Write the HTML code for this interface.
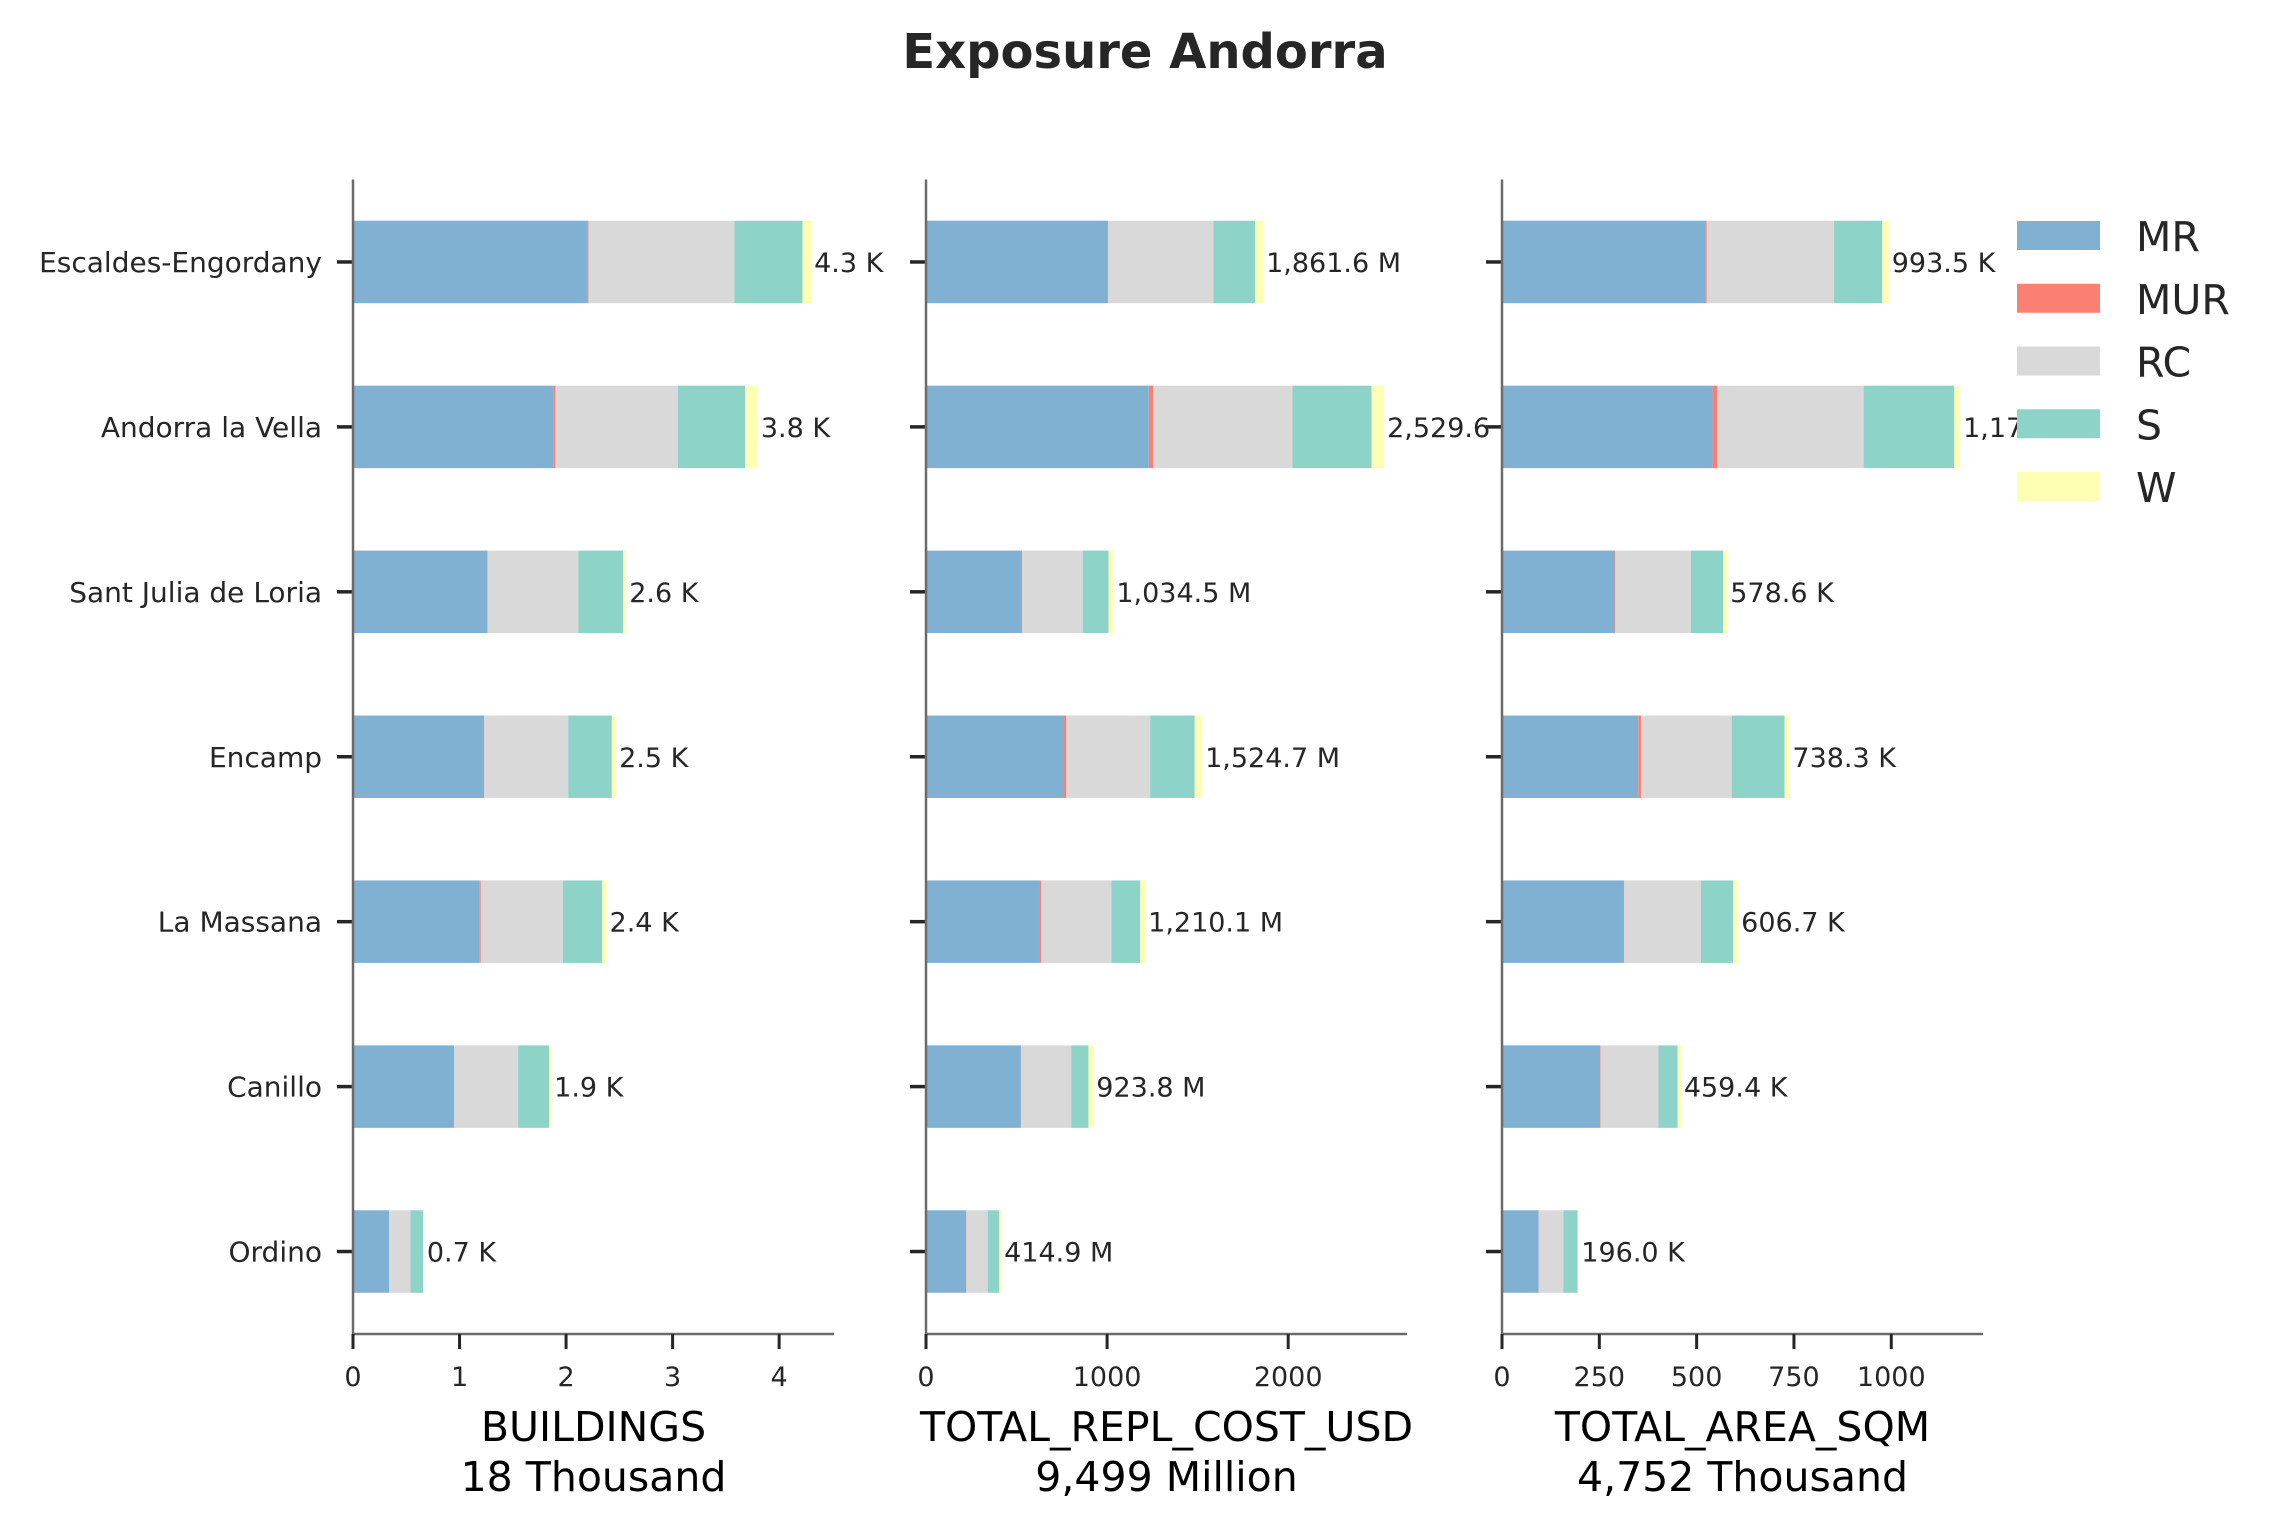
<!DOCTYPE html>
<html><head><meta charset="utf-8"><style>
html,body{margin:0;padding:0;background:#fff;}
svg{display:block;font-family:"DejaVu Sans","Liberation Sans",sans-serif;}
</style></head><body>
<svg id="chart" width="2275" height="1529" viewBox="0 0 2275 1529" xmlns="http://www.w3.org/2000/svg">
<rect x="0" y="0" width="2275" height="1529" fill="#fff"/>
<text x="1145" y="68" text-anchor="middle" font-size="48" font-weight="bold" fill="#262626">Exposure Andorra</text>
</svg>
<script>
const categories = ["Escaldes-Engordany","Andorra la Vella","Sant Julia de Loria","Encamp","La Massana","Canillo","Ordino"];
const seriesNames = ["MR","MUR","RC","S","W"];
// Buildings (thousands)
const bMR  = [2.20,1.88,1.26,1.22,1.19,0.95,0.34];
const bMUR = [0.01,0.02,0.005,0.01,0.01,0.0,0.0];
const bRC  = [1.37,1.15,0.85,0.79,0.77,0.60,0.20];
const bS   = [0.64,0.63,0.42,0.41,0.37,0.29,0.12];
const bW   = [0.08,0.12,0.03,0.04,0.04,0.02,0.005];
// Replacement cost (millions USD)
const cMR  = [1000,1230,524,762,627,524,222];
const cMUR = [5,24,6,13,8,2,1];
const cRC  = [582,770,335,463,389,276,118];
const cS   = [230,436,143,246,159,95,64];
const cW   = [44.6,69.6,26.5,40.7,27.1,26.8,9.9];
// Area (thousand sqm)
const aMR  = [523,541,289,350,312,252,94];
const aMUR = [3,12,2,7,2,1,0.5];
const aRC  = [327,376,194,233,197,149,63.5];
const aS   = [124,233,83,136,83,49,36];
const aW   = [16.5,14.8,10.6,12.3,12.7,8.4,2];
const ticks1 = [0,1,2,3,4];
const ticks2 = [0,1000,2000];
const ticks3 = [0,250,500,750,1000];
const xlabels1 = ["BUILDINGS","18 Thousand"];
const xlabels2 = ["TOTAL_REPL_COST_USD","9,499 Million"];
const xlabels3 = ["TOTAL_AREA_SQM","4,752 Thousand"];

const colors = ["#80b1d3","#fb8072","#d9d9d9","#8dd3c7","#ffffb3"];
const NS = "http://www.w3.org/2000/svg";
const svgEl = document.getElementById('chart');
function mk(tag, attrs, parent){
  const e = document.createElementNS(NS, tag);
  for (const k in attrs) e.setAttribute(k, attrs[k]);
  (parent||svgEl).appendChild(e);
  return e;
}
function fmt(v){
  return v.toLocaleString('en-US',{minimumFractionDigits:1,maximumFractionDigits:1});
}
const axTop = 179.5, axBottom = 1334, PW = 481;
const rowH = (axBottom - axTop) / categories.length;
function yc(i){ return axTop + (i + 0.5) * rowH; }

function panel(idx, x0, series, ticks, unit, xlabels, showCats){
  const g = mk('g', {});
  
  
  mk('rect', {x: x0-2, y: axTop-5, width: PW+4, height: axBottom-axTop+5, fill: '#fff'}, g);
  const totals = categories.map((c,i)=>series.reduce((s,a)=>s+a[i],0));
  const xmax = Math.max(...totals) * 1.05;
  const xs = v => x0 + v / xmax * PW;
  categories.forEach((c,i)=>{
    let acc = 0;
    series.forEach((arr,k)=>{
      const r = mk('rect', {x: xs(acc), y: yc(i)-rowH*0.25, width: Math.max(0, xs(acc+arr[i])-xs(acc)), height: rowH*0.5, fill: colors[k]}, g);
      
      
      acc += arr[i];
    });
    const t = mk('text', {x: xs(acc)+3, y: yc(i)+10, 'font-size': 27, fill: '#262626'}, g);
    
    
    t.textContent = fmt(totals[i]) + ' ' + unit;
    mk('line', {x1: x0-16, x2: x0, y1: yc(i), y2: yc(i), stroke: '#262626', 'stroke-width': 3.5}, g);
    if (showCats){
      const ct = mk('text', {x: x0-31, y: yc(i)+10, 'font-size': 28, 'text-anchor': 'end', fill: '#262626'}, g);
      
      
      ct.textContent = c;
    }
  });
  mk('line', {x1: x0, x2: x0, y1: axTop, y2: axBottom, stroke: '#6b6b6b', 'stroke-width': 2.5}, g);
  mk('line', {x1: x0, x2: x0+PW, y1: axBottom, y2: axBottom, stroke: '#6b6b6b', 'stroke-width': 2.5}, g);
  ticks.forEach(tv=>{
    mk('line', {x1: xs(tv), x2: xs(tv), y1: axBottom, y2: axBottom+15, stroke: '#262626', 'stroke-width': 3}, g);
    const tt = mk('text', {x: xs(tv), y: 1386, 'font-size': 27, 'text-anchor': 'middle', fill: '#262626'}, g);
    
    
    tt.textContent = String(tv);
  });
  xlabels.forEach((l,j)=>{
    const xl = mk('text', {x: x0+PW/2, y: 1441 + j*50, 'font-size': 41, 'text-anchor': 'middle', fill: '#000'}, g);
    
    
    xl.textContent = l;
  });
}
panel(0, 353, [bMR,bMUR,bRC,bS,bW], ticks1, 'K', xlabels1, true);
panel(1, 926, [cMR,cMUR,cRC,cS,cW], ticks2, 'M', xlabels2, false);
panel(2, 1502, [aMR,aMUR,aRC,aS,aW], ticks3, 'K', xlabels3, false);

const lg = mk('g', {});


seriesNames.forEach((n,k)=>{
  const y = 221 + k*62.75;
  const sw = mk('rect', {x: 2017, y: y, width: 83, height: 29, fill: colors[k]}, lg);
  
  
  const t = mk('text', {x: 2136, y: y+30, 'font-size': 41, fill: '#262626'}, lg);
  
  
  t.textContent = n;
});
</script>
</body></html>
